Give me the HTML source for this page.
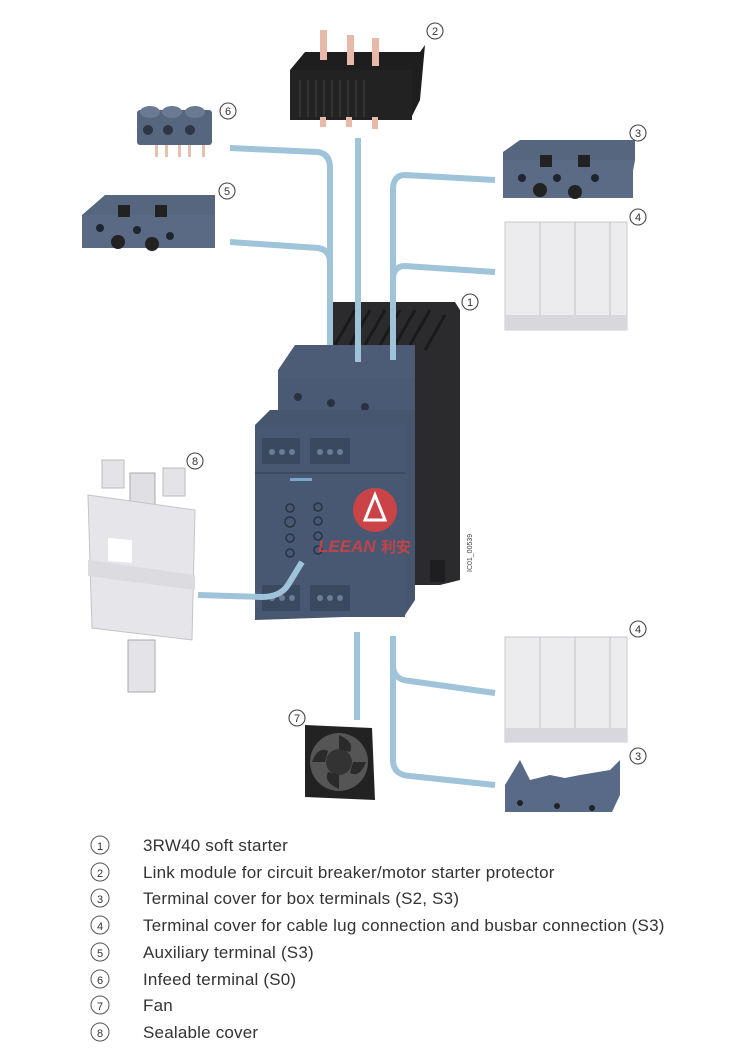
<!DOCTYPE html>
<html><head><meta charset="utf-8"><style>
html,body{margin:0;padding:0;background:#fff;width:750px;height:1062px;overflow:hidden}
svg{display:block}
.lg{font-family:"Liberation Sans",sans-serif;font-size:17px;letter-spacing:0.2px;fill:#333}
.cn{font-family:"Liberation Sans",sans-serif;font-size:11px;fill:#333;text-anchor:middle}
</style></head><body>
<svg width="750" height="1062" viewBox="0 0 750 1062" xmlns="http://www.w3.org/2000/svg">
<defs>
<g id="circ"><circle r="8" fill="#fff" stroke="#444" stroke-width="1.1"/></g>
</defs>
<!-- part 2: link module -->
<g>
<polygon points="290,70 305,52 420,52 425,45 420,100 410,120 290,120" fill="#1e1e1e"/>
<rect x="290" y="70" width="122" height="50" fill="#222"/>
<g stroke="#444" stroke-width="1">
<line x1="300" y1="80" x2="300" y2="117"/><line x1="308" y1="80" x2="308" y2="117"/><line x1="316" y1="80" x2="316" y2="117"/><line x1="324" y1="80" x2="324" y2="117"/><line x1="332" y1="80" x2="332" y2="117"/><line x1="340" y1="80" x2="340" y2="117"/><line x1="348" y1="80" x2="348" y2="117"/><line x1="356" y1="80" x2="356" y2="117"/><line x1="364" y1="80" x2="364" y2="117"/>
</g>
<rect x="320" y="30" width="7" height="30" fill="#e8b8a8"/><rect x="347" y="35" width="7" height="30" fill="#e8b8a8"/><rect x="372" y="38" width="7" height="28" fill="#e8b8a8"/>
<rect x="320" y="117" width="6" height="10" fill="#e8b8a8"/><rect x="346" y="117" width="6" height="10" fill="#e8b8a8"/><rect x="372" y="117" width="6" height="12" fill="#e8b8a8"/>
</g>
<!-- part 6 -->
<g>
<rect x="137" y="110" width="75" height="35" rx="3" fill="#56667f"/>
<ellipse cx="150" cy="112" rx="10" ry="6" fill="#6a7a92"/><ellipse cx="172" cy="112" rx="10" ry="6" fill="#6a7a92"/><ellipse cx="195" cy="112" rx="10" ry="6" fill="#6a7a92"/>
<circle cx="148" cy="130" r="5" fill="#2e3646"/><circle cx="168" cy="130" r="5" fill="#2e3646"/><circle cx="190" cy="130" r="5" fill="#2e3646"/>
<g fill="#e8c0b0"><rect x="155" y="145" width="3" height="12"/><rect x="165" y="145" width="3" height="12"/><rect x="178" y="145" width="3" height="12"/><rect x="188" y="145" width="3" height="12"/><rect x="202" y="145" width="3" height="12"/></g>
</g>
<!-- part 5 -->
<g>
<polygon points="82,215 105,195 215,195 215,215 210,248 82,248" fill="#56667f"/>
<rect x="82" y="215" width="133" height="33" fill="#5a6a84"/>
<rect x="118" y="205" width="12" height="12" fill="#222"/><rect x="155" y="205" width="12" height="12" fill="#222"/>
<circle cx="100" cy="228" r="4" fill="#1e2430"/><circle cx="137" cy="230" r="4" fill="#1e2430"/><circle cx="170" cy="236" r="4" fill="#1e2430"/>
<circle cx="118" cy="242" r="7" fill="#222"/><circle cx="152" cy="244" r="7" fill="#222"/>
</g>
<!-- part 3 top -->
<g>
<polygon points="503,152 520,140 635,140 635,160 628,198 503,198" fill="#56667f"/>
<rect x="503" y="160" width="130" height="38" fill="#5b6b85"/>
<rect x="540" y="155" width="12" height="12" fill="#222"/><rect x="578" y="155" width="12" height="12" fill="#222"/>
<circle cx="522" cy="178" r="4" fill="#1e2430"/><circle cx="557" cy="178" r="4" fill="#1e2430"/><circle cx="595" cy="178" r="4" fill="#1e2430"/>
<circle cx="540" cy="190" r="7" fill="#222"/><circle cx="575" cy="192" r="7" fill="#222"/>
</g>
<!-- part 4 top -->
<g>
<rect x="505" y="222" width="122" height="108" fill="#ececee" stroke="#c8c8cc"/>
<line x1="540" y1="222" x2="540" y2="330" stroke="#c0c0c6"/><line x1="575" y1="222" x2="575" y2="330" stroke="#c0c0c6"/><line x1="610" y1="222" x2="610" y2="330" stroke="#c0c0c6"/>
<rect x="505" y="315" width="122" height="15" fill="#d8d8dc"/>
</g>
<!-- part 1: soft starter -->
<g>
<polygon points="330,302 455,302 460,310 460,580 440,585 330,585" fill="#2b2b2d"/>
<g stroke="#1a1a1a" stroke-width="3"><line x1="335" y1="345" x2="355" y2="310"/><line x1="350" y1="345" x2="370" y2="310"/><line x1="365" y1="345" x2="385" y2="310"/><line x1="380" y1="345" x2="400" y2="310"/><line x1="395" y1="345" x2="415" y2="310"/><line x1="410" y1="345" x2="430" y2="310"/><line x1="425" y1="350" x2="445" y2="315"/></g>
<polygon points="278,370 295,345 415,345 415,410 278,410" fill="#4c5c76"/>
<rect x="278" y="378" width="137" height="32" fill="#4a5a74"/>
<circle cx="298" cy="397" r="4" fill="#2a3140"/><circle cx="331" cy="403" r="4" fill="#2a3140"/><circle cx="365" cy="407" r="4" fill="#2a3140"/>
<polygon points="255,425 270,410 415,410 415,600 405,615 255,620" fill="#46566f"/>
<rect x="255" y="425" width="150" height="192" fill="#485872"/>
<rect x="262" y="438" width="38" height="26" fill="#3a4860"/><rect x="310" y="438" width="40" height="26" fill="#3a4860"/>
<g fill="#6c7c94"><circle cx="272" cy="452" r="3"/><circle cx="282" cy="452" r="3"/><circle cx="292" cy="452" r="3"/><circle cx="320" cy="452" r="3"/><circle cx="330" cy="452" r="3"/><circle cx="340" cy="452" r="3"/></g>
<rect x="255" y="472" width="150" height="2" fill="#3c4a60"/>
<rect x="290" y="478" width="22" height="3" fill="#7aa7c6"/>
<g fill="none" stroke="#2a3345" stroke-width="1.5"><circle cx="290" cy="508" r="4"/><circle cx="290" cy="522" r="5"/><circle cx="318" cy="507" r="4"/><circle cx="318" cy="521" r="4"/><circle cx="318" cy="536" r="4"/><circle cx="318" cy="550" r="4"/><circle cx="290" cy="538" r="4"/><circle cx="290" cy="553" r="4"/></g>
<rect x="262" y="585" width="38" height="26" fill="#3a4860"/><rect x="310" y="585" width="40" height="26" fill="#3a4860"/>
<g fill="#6c7c94"><circle cx="272" cy="598" r="3"/><circle cx="282" cy="598" r="3"/><circle cx="292" cy="598" r="3"/><circle cx="320" cy="598" r="3"/><circle cx="330" cy="598" r="3"/><circle cx="340" cy="598" r="3"/></g>
<rect x="430" y="560" width="15" height="22" fill="#1e1e20"/>
<circle cx="375" cy="510" r="22" fill="#e04040" opacity="0.85"/>
<polygon points="375,495 365,520 385,520" fill="none" stroke="#fff" stroke-width="3"/>
<text x="318" y="552" font-family="Liberation Sans,sans-serif" font-size="17" font-style="italic" font-weight="bold" fill="#d84040" opacity="0.85">LEEAN</text>
<text x="381" y="552" font-family="Liberation Sans,'Noto Sans CJK SC',sans-serif" font-size="15" font-weight="bold" fill="#d84040" opacity="0.85">利安</text>
<text transform="translate(472,572) rotate(-90)" font-family="Liberation Sans,sans-serif" font-size="7" fill="#444">IC01_00539</text>
</g>
<!-- part 8 -->
<g>
<rect x="102" y="460" width="22" height="28" fill="#e4e4e8" stroke="#bbb"/><rect x="163" y="468" width="22" height="28" fill="#e4e4e8" stroke="#bbb"/>
<rect x="130" y="473" width="25" height="32" fill="#e0e0e4" stroke="#aaa"/>
<polygon points="88,495 195,510 192,640 92,628" fill="#e6e6ea" stroke="#c4c4c8"/>
<polygon points="108,538 132,540 132,563 108,561" fill="#fff"/>
<polygon points="88,560 195,575 195,590 88,576" fill="#dcdce0"/>
<rect x="128" y="640" width="27" height="52" fill="#e4e4e8" stroke="#aaa"/>
</g>
<!-- part 7 fan -->
<g>
<polygon points="305,725 372,728 375,800 305,797" fill="#222"/>
<circle cx="339" cy="762" r="29" fill="#555"/>
<circle cx="339" cy="762" r="13" fill="#333"/>
<g fill="#2a2a2a"><path d="M339 735 Q355 742 350 752 L339 749Z"/><path d="M366 762 Q360 778 350 773 L353 762Z"/><path d="M339 789 Q323 782 328 772 L339 775Z"/><path d="M312 762 Q318 746 328 751 L325 762Z"/></g>
</g>
<!-- part 4 bottom -->
<g>
<rect x="505" y="637" width="122" height="105" fill="#ececee" stroke="#c8c8cc"/>
<line x1="540" y1="637" x2="540" y2="742" stroke="#c0c0c6"/><line x1="575" y1="637" x2="575" y2="742" stroke="#c0c0c6"/><line x1="610" y1="637" x2="610" y2="742" stroke="#c0c0c6"/>
<rect x="505" y="728" width="122" height="14" fill="#d8d8dc"/>
</g>
<!-- part 3 bottom -->
<g>
<polygon points="505,785 520,760 530,780 550,775 565,778 580,775 610,770 620,760 620,795 612,812 505,812" fill="#596a88"/>
<circle cx="520" cy="803" r="3" fill="#222"/><circle cx="557" cy="806" r="3" fill="#222"/><circle cx="592" cy="808" r="3" fill="#222"/>
</g>
<!-- connector lines (on top) -->
<g fill="none" stroke="#9fc3d9" stroke-width="6" stroke-linecap="butt">
<path d="M230 148 L318 152 Q330 154 330 168 L330 345"/>
<path d="M230 242 L318 248 Q330 250 330 262"/>
<path d="M358 138 L358 362"/>
<path d="M495 180 L405 175 Q393 175 393 190 L393 360"/>
<path d="M495 272 L405 266 Q393 266 393 280"/>
<path d="M357 632 L357 720"/>
<path d="M393 636 L393 760 Q393 775 410 776 L495 785"/>
<path d="M393 665 Q393 680 410 681 L495 693"/>
<path d="M198 595 L262 597 Q280 597 288 585 L302 562"/>
</g>
<!-- callout numbers -->
<g>
<use href="#circ" x="435" y="31"/><text class="cn" x="435" y="35">2</text>
<use href="#circ" x="228" y="111"/><text class="cn" x="228" y="115">6</text>
<use href="#circ" x="227" y="191"/><text class="cn" x="227" y="195">5</text>
<use href="#circ" x="638" y="133"/><text class="cn" x="638" y="137">3</text>
<use href="#circ" x="638" y="217"/><text class="cn" x="638" y="221">4</text>
<use href="#circ" x="470" y="302"/><text class="cn" x="470" y="306">1</text>
<use href="#circ" x="195" y="461"/><text class="cn" x="195" y="465">8</text>
<use href="#circ" x="297" y="718"/><text class="cn" x="297" y="722">7</text>
<use href="#circ" x="638" y="629"/><text class="cn" x="638" y="633">4</text>
<use href="#circ" x="638" y="756"/><text class="cn" x="638" y="760">3</text>
</g>
<!-- legend -->
<g>
<g transform="translate(100,0)">
<circle cx="0" cy="845" r="9" fill="none" stroke="#555"/><text class="cn" x="0" y="850" font-size="13">1</text>
<circle cx="0" cy="872" r="9" fill="none" stroke="#555"/><text class="cn" x="0" y="877" font-size="13">2</text>
<circle cx="0" cy="898" r="9" fill="none" stroke="#555"/><text class="cn" x="0" y="903" font-size="13">3</text>
<circle cx="0" cy="925" r="9" fill="none" stroke="#555"/><text class="cn" x="0" y="930" font-size="13">4</text>
<circle cx="0" cy="952" r="9" fill="none" stroke="#555"/><text class="cn" x="0" y="957" font-size="13">5</text>
<circle cx="0" cy="979" r="9" fill="none" stroke="#555"/><text class="cn" x="0" y="984" font-size="13">6</text>
<circle cx="0" cy="1005" r="9" fill="none" stroke="#555"/><text class="cn" x="0" y="1010" font-size="13">7</text>
<circle cx="0" cy="1032" r="9" fill="none" stroke="#555"/><text class="cn" x="0" y="1037" font-size="13">8</text>
</g>
<text class="lg" x="143" y="851">3RW40 soft starter</text>
<text class="lg" x="143" y="878">Link module for circuit breaker/motor starter protector</text>
<text class="lg" x="143" y="904">Terminal cover for box terminals (S2, S3)</text>
<text class="lg" x="143" y="931">Terminal cover for cable lug connection and busbar connection (S3)</text>
<text class="lg" x="143" y="958">Auxiliary terminal (S3)</text>
<text class="lg" x="143" y="985">Infeed terminal (S0)</text>
<text class="lg" x="143" y="1011">Fan</text>
<text class="lg" x="143" y="1038">Sealable cover</text>
</g>
</svg>
</body></html>
